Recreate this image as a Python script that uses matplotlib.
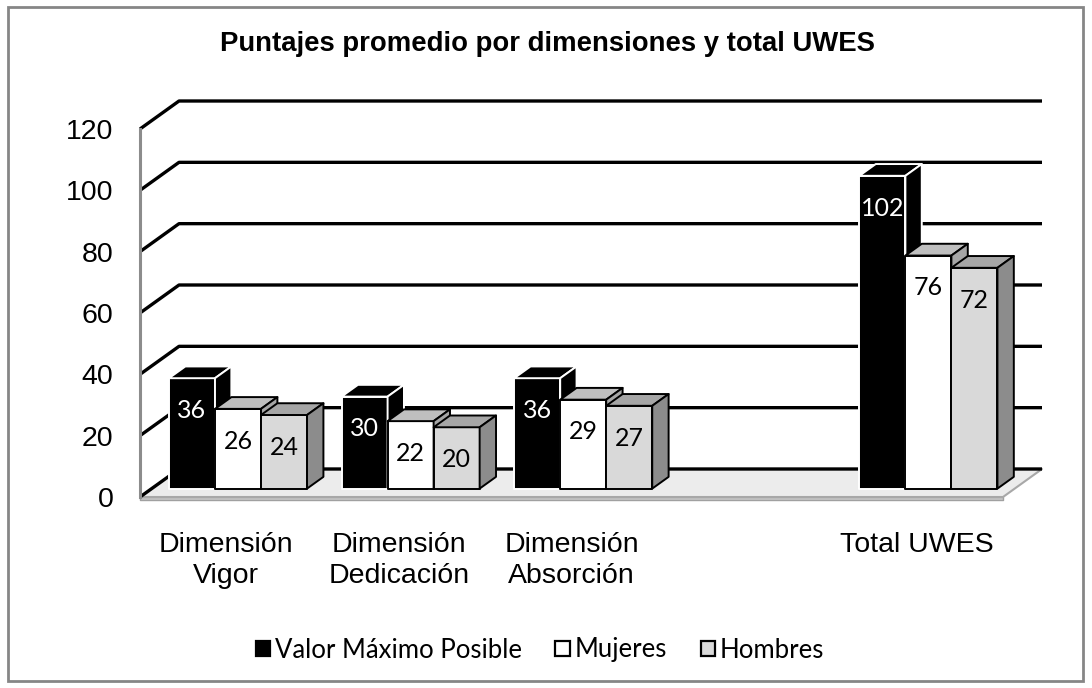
import matplotlib
matplotlib.use("Agg")
import matplotlib.pyplot as plt
from matplotlib.patches import Polygon, Patch, Rectangle

# ---------------- data ----------------
categories = ["Dimensión\nVigor", "Dimensión\nDedicación", "Dimensión\nAbsorción", "", "Total UWES"]
series_names = ["Valor Máximo Posible", "Mujeres", "Hombres"]
valor_maximo = [36, 30, 36, None, 102]
mujeres = [26, 22, 29, None, 76]
hombres = [24, 20, 27, None, 72]
yticks = [0, 20, 40, 60, 80, 100, 120]
title = "Puntajes promedio por dimensiones y total UWES"

# ---------------- styles ----------------
front_colors = ["#000000", "#ffffff", "#d9d9d9"]
top_colors = ["#000000", "#bfbfbf", "#a6a6a6"]
side_colors = ["#000000", "#a6a6a6", "#8c8c8c"]
edge_colors = ["#ffffff", "#000000", "#000000"]
label_colors = ["#ffffff", "#000000", "#000000"]

W, H = 1092, 688
fig = plt.figure(figsize=(W / 100, H / 100), dpi=100)
# front plane in pixels
x0p, x1p, y0p, y1p = 140, 1003, 497, 129
ax = fig.add_axes([x0p / W, 1 - y0p / H, (x1p - x0p) / W, (y0p - y1p) / H])
ncat = len(categories)
ax.set_xlim(0, ncat)
ax.set_ylim(0, 120)
for s in ax.spines.values():
    s.set_visible(False)

px_per_x = (x1p - x0p) / ncat
px_per_y = (y0p - y1p) / 120.0
DX = 39 / px_per_x
DY = 28 / px_per_y


def P(x, y, z):
    return (x + z * DX, y + z * DY)


def poly(pts, fc, ec, lw, z):
    ax.add_patch(Polygon(pts, closed=True, facecolor=fc, edgecolor=ec, linewidth=lw,
                         zorder=z, clip_on=False, joinstyle="round"))


# floor
poly([P(0, 0, 0), P(ncat, 0, 0), P(ncat, 0, 1), P(0, 0, 1)], "#ececec", "#a8a8a8", 1.5, 0.5)
poly([P(0, 0, 0), P(ncat, 0, 0), (ncat, -1.0), (0, -1.0)], "#c8c8c8", "#a0a0a0", 1.0, 0.4)

# gridlines (left wall diagonal + back wall)
for v in yticks:
    pts = [P(0, v, 0), P(0, v, 1), P(ncat, v, 1)]
    ax.plot([p[0] for p in pts], [p[1] for p in pts], color="black", lw=2.4,
            zorder=1, clip_on=False, solid_capstyle="butt")

# y axis line
ax.plot([0, 0], [0, 120], color="#8c8c8c", lw=2.2, zorder=2, clip_on=False)

# bars
z0, z1 = 0.30, 0.72
group_w = 0.8
bw = group_w / 3
all_series = [valor_maximo, mujeres, hombres]
zo = 3
for ci in range(ncat):
    for si, vals in enumerate(all_series):
        h = vals[ci]
        if h is None:
            continue
        xl = ci + 0.5 - group_w / 2 + si * bw
        xr = xl + bw
        fc, tc, sc, ec = front_colors[si], top_colors[si], side_colors[si], edge_colors[si]
        poly([P(xl, 0, z0), P(xr, 0, z0), P(xr, h, z0), P(xl, h, z0)], fc, ec, 1.4, zo)
        poly([P(xl, h, z0), P(xr, h, z0), P(xr, h, z1), P(xl, h, z1)], tc, ec, 1.4, zo)
        poly([P(xr, 0, z0), P(xr, 0, z1), P(xr, h, z1), P(xr, h, z0)], sc, ec, 1.4, zo)
        cx, cy = P((xl + xr) / 2, h, z0)
        ax.text(cx, cy - 10.5, str(h), ha="center", va="center", fontsize=18,
                family=["Lato", "DejaVu Sans"], color=label_colors[si], zorder=zo + 0.5)
        zo += 1

# ticks
ax.set_yticks(yticks)
ax.set_yticklabels([str(v) for v in yticks], fontsize=20.5, family="Liberation Sans")
ax.tick_params(axis="y", length=0, pad=19)
ax.set_xticks([i + 0.5 for i in range(ncat)])
ax.set_xticklabels(categories, fontsize=20.5, family="Liberation Sans", linespacing=1.25)
ax.tick_params(axis="x", length=0, pad=25)

# title
fig.text(548 / W, 1 - 44 / H, title, ha="center", va="center", fontsize=19.8,
         fontweight="bold", family="Liberation Sans")

# legend
handles = [Patch(facecolor=front_colors[i], edgecolor="black", linewidth=1.6) for i in range(3)]
fig.legend(handles, series_names, loc="center", bbox_to_anchor=(540 / W, 1 - 650 / H), ncol=3,
           frameon=False, handlelength=0.55, handleheight=0.55, handletextpad=0.2,
           columnspacing=1.3, prop={"family": "Lato", "size": 18.5})

# outer border
fig.add_artist(Rectangle((8 / W, 1 - 681 / H), (1083 - 8) / W, (681 - 7) / H,
                         transform=fig.transFigure, fill=False, edgecolor="#868686", lw=2))

fig.savefig("out.png", dpi=100)
